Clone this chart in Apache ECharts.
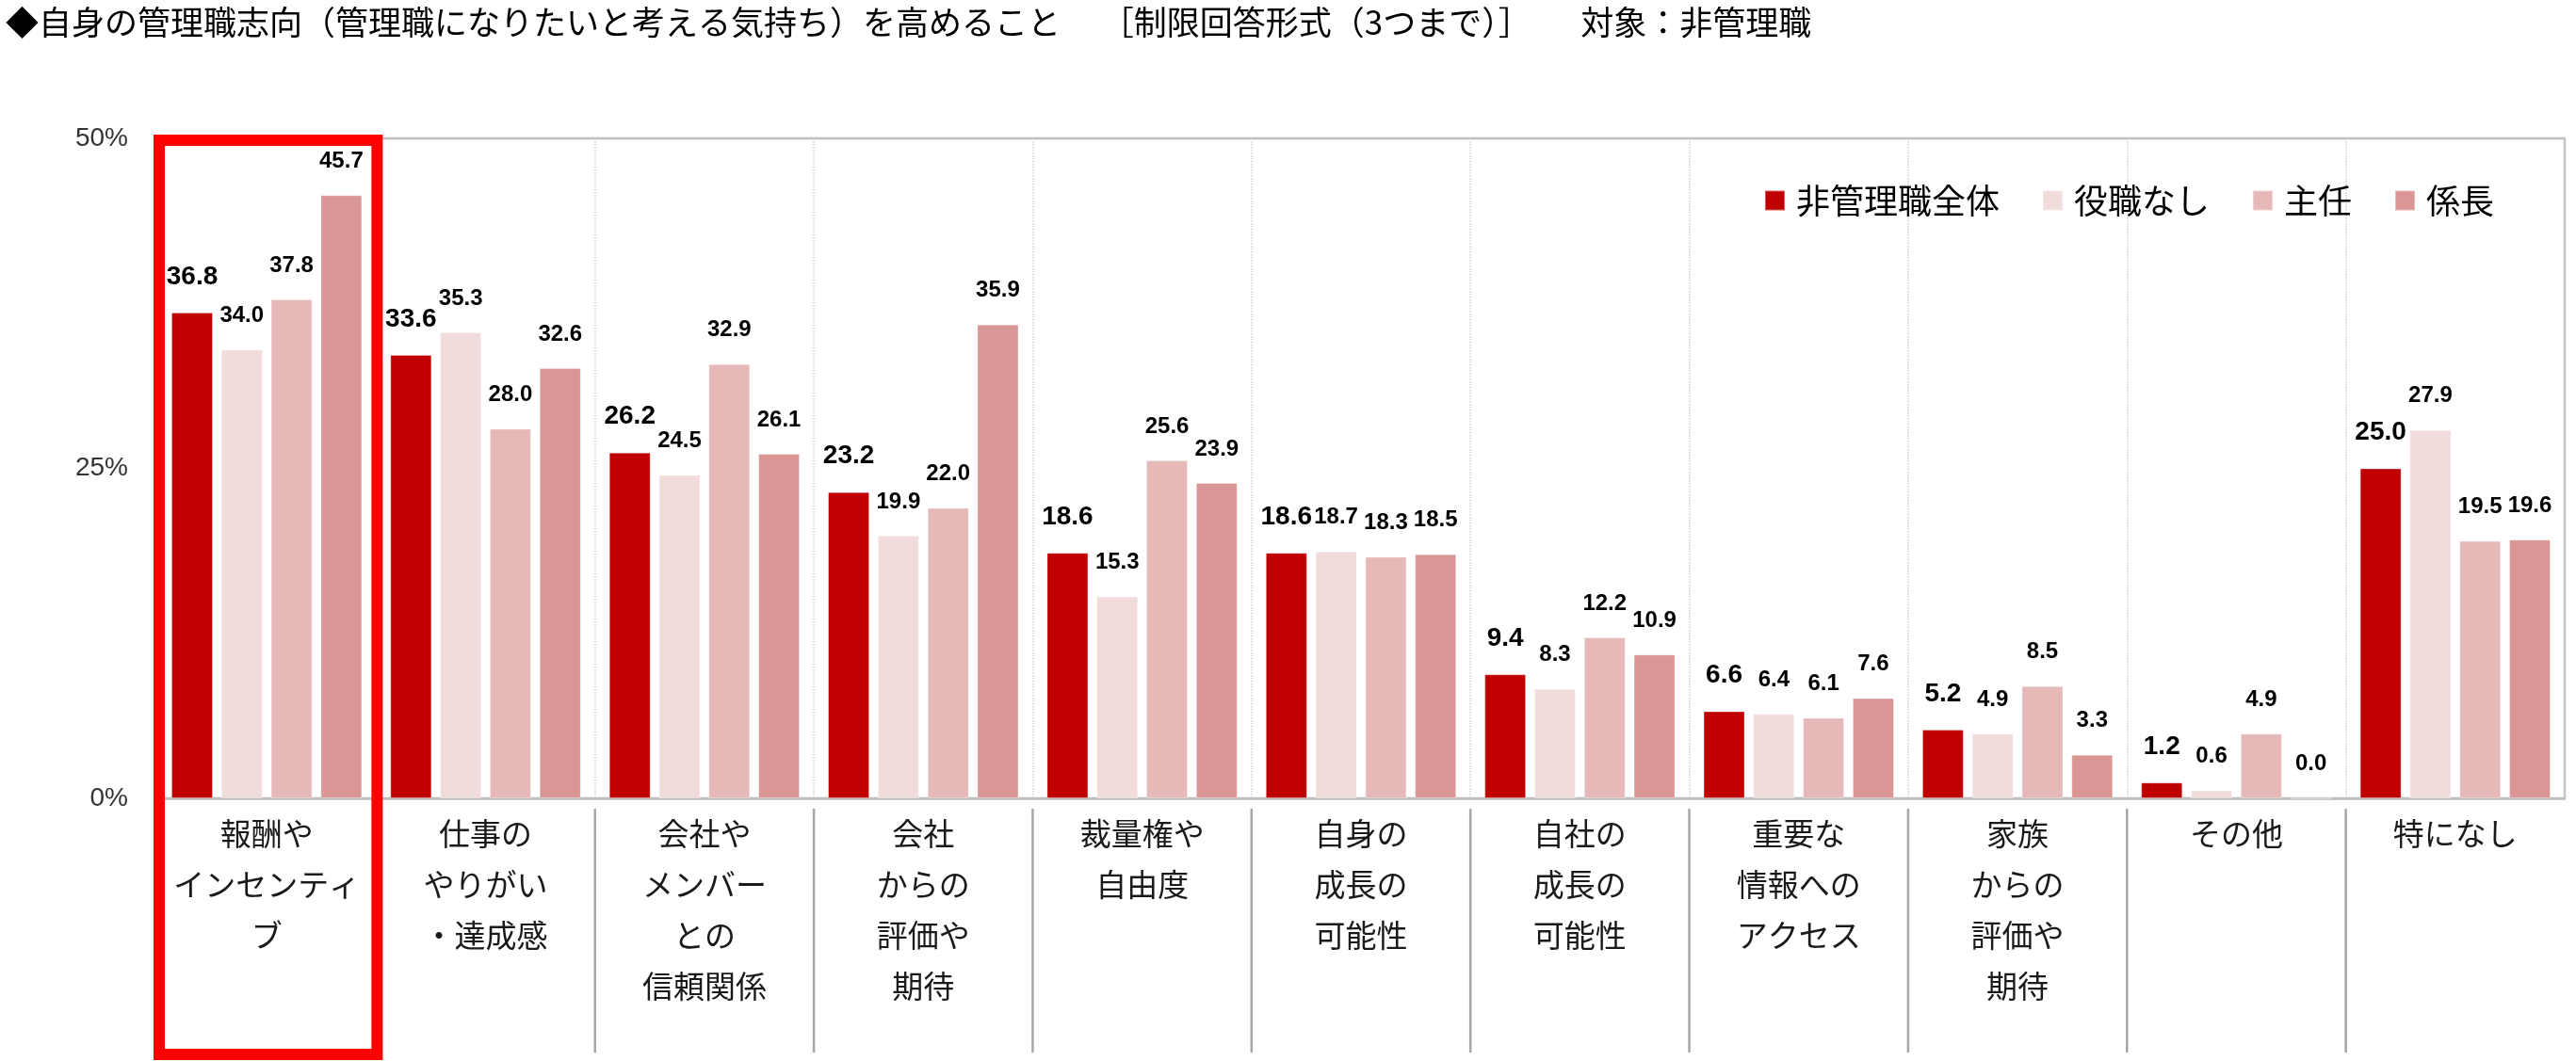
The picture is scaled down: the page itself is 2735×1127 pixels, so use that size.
<!DOCTYPE html>
<html>
<head>
<meta charset="utf-8">
<script src="https://cdn.jsdelivr.net/npm/echarts@6/dist/echarts.min.js"></script>
<style>
html,body{margin:0;padding:0;background:#fff;}
#c{width:2735px;height:1127px;}
</style>
</head>
<body>
<div id="c"></div>
<script>
const titleText = '◆自身の管理職志向（管理職になりたいと考える気持ち）を高めること　 ［制限回答形式（3つまで）］　　対象：非管理職';
const categories = [
  '報酬や\nインセンティ\nブ',
  '仕事の\nやりがい\n・達成感',
  '会社や\nメンバー\nとの\n信頼関係',
  '会社\nからの\n評価や\n期待',
  '裁量権や\n自由度',
  '自身の\n成長の\n可能性',
  '自社の\n成長の\n可能性',
  '重要な\n情報への\nアクセス',
  '家族\nからの\n評価や\n期待',
  'その他',
  '特になし'
];
const seriesNames = ['非管理職全体', '役職なし', '主任', '係長'];
const allNonManager = [36.8, 33.6, 26.2, 23.2, 18.6, 18.6, 9.4, 6.6, 5.2, 1.2, 25.0];
const noTitle      = [34.0, 35.3, 24.5, 19.9, 15.3, 18.7, 8.3, 6.4, 4.9, 0.6, 27.9];
const shunin       = [37.8, 28.0, 32.9, 22.0, 25.6, 18.3, 12.2, 6.1, 8.5, 4.9, 19.5];
const kakaricho    = [45.7, 32.6, 26.1, 35.9, 23.9, 18.5, 10.9, 7.6, 3.3, 0.0, 19.6];
const yTicks = [0, 25, 50];
const colors = ['#C00000', '#F2DCDB', '#E6B9B8', '#D99694'];

const seriesData = [allNonManager, noTitle, shunin, kakaricho];
const numFont = 'Liberation Sans, Arial, sans-serif';
const jpFont = '"Noto Sans CJK JP", sans-serif';

const chart = echarts.init(document.getElementById('c'), null, {renderer: 'canvas'});

const option = {
  animation: false,
  backgroundColor: '#fff',
  title: {
    text: titleText,
    left: 6,
    top: 6,
    padding: 0,
    textStyle: {fontFamily: jpFont, fontSize: 35, fontWeight: 'normal', color: '#000'}
  },
  legend: {
    data: seriesNames,
    left: 1868,
    top: 190,
    itemWidth: 21,
    itemHeight: 21,
    itemGap: 45,
    icon: 'rect',
    textStyle: {fontFamily: jpFont, fontSize: 36, color: '#000', padding: [0, 0, 0, 7]}
  },
  grid: {
    left: 167, right: 12, top: 147, bottom: 279,
    show: true, borderColor: '#BFBFBF', borderWidth: 2.5, containLabel: false
  },
  xAxis: {
    type: 'category',
    data: categories,
    axisLine: {show: true, lineStyle: {color: '#BFBFBF', width: 2.5}},
    axisTick: {show: false},
    splitLine: {show: true, lineStyle: {color: '#D0D0D0', type: 'dotted', width: 1.5}},
    axisLabel: {
      interval: 0, margin: 10,
      fontFamily: jpFont, fontSize: 33, lineHeight: 54, color: '#1a1a1a'
    }
  },
  yAxis: {
    type: 'value',
    min: 0, max: 50, interval: 25,
    axisLine: {show: false},
    axisTick: {show: false},
    splitLine: {show: false},
    axisLabel: {
      margin: 31,
      fontFamily: numFont, fontSize: 28, color: '#333',
      formatter: function (v) { return yTicks.indexOf(v) >= 0 ? v + '%' : ''; }
    }
  },
  series: seriesData.map(function (d, i) {
    return {
      name: seriesNames[i],
      type: 'bar',
      data: d,
      barWidth: 44,
      barGap: '20%',
      itemStyle: {color: colors[i], borderColor: 'rgba(255,255,255,0.35)', borderWidth: 1},
      label: {
        show: true,
        position: 'top',
        distance: 24,
        fontFamily: numFont,
        fontWeight: 'bold',
        fontSize: i === 0 ? 28 : 24,
        color: '#000',
        formatter: function (p) { return Number(p.value).toFixed(1); }
      }
    };
  })
};
chart.setOption(option);

function addOverlays() {
  const x0 = chart.convertToPixel({xAxisIndex: 0}, 0);
  const x1 = chart.convertToPixel({xAxisIndex: 0}, 1);
  const band = x1 - x0;
  const yTop = chart.convertToPixel({yAxisIndex: 0}, 50);
  const yZero = chart.convertToPixel({yAxisIndex: 0}, 0);
  const g = [];
  for (let i = 1; i < categories.length; i++) {
    const xb = chart.convertToPixel({xAxisIndex: 0}, i) - band / 2;
    g.push({
      type: 'line', z: 50,
      shape: {x1: xb, y1: yZero + 11, x2: xb, y2: yZero + 270},
      style: {stroke: '#A6A6A6', lineWidth: 2.5}
    });
  }
  g.push({
    type: 'rect', z: 100,
    shape: {x: x0 - band / 2 + 2, y: yTop + 2, width: band - 1, height: chart.getHeight() - 7 - (yTop + 2)},
    style: {fill: 'none', stroke: '#FF0000', lineWidth: 12}
  });
  chart.setOption({graphic: g});
}
addOverlays();
</script>
</body>
</html>
